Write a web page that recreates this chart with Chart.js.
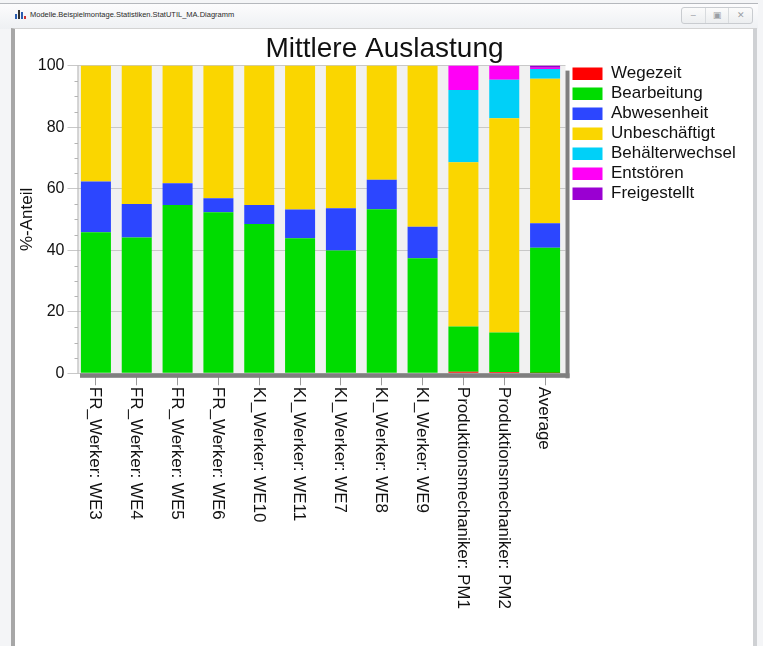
<!DOCTYPE html>
<html>
<head>
<meta charset="utf-8">
<script src="https://cdn.jsdelivr.net/npm/chart.js@4"></script>
<style>
  body { margin: 0; width: 763px; height: 646px; overflow: hidden; position: relative;
         background: #f4f5f7; font-family: "Liberation Sans", Arial, sans-serif; }
  #titlebar { position: absolute; left: 0; top: 3px; width: 758px; height: 25px;
              background: linear-gradient(#fcfcfd, #eef0f3); border-top: 1px solid #b5b8bd; }
  #titlebar .caption { position: absolute; left: 30px; top: 6px; font-size: 7.5px; color: #2a2a2a; white-space: nowrap; }
  #icon { position: absolute; left: 15px; top: 5px; width: 11px; height: 10px; }
  #icon span { position: absolute; bottom: 0; width: 2px; }
  #buttons { position: absolute; left: 681px; top: 3px; width: 70px; height: 15px; border: 1px solid #c9ccd0;
             border-radius: 3px; background: linear-gradient(#fbfbfb, #eceef0); display: flex; }
  #buttons span { flex: 1; text-align: center; font-size: 9px; line-height: 15px; color: #9a9ea4; border-right: 1px solid #d8dbde; }
  #buttons span:last-child { border-right: none; }
  #client { position: absolute; left: 11px; top: 28px; width: 738px; height: 640px; background: #fff;
            border-left: 4px solid #a7a7a7; border-right: 4px solid #cfd1d4; border-top: 1px solid #d3d3d3; }
  canvas { position: absolute; left: 0; top: 0; }
</style>
</head>
<body>
<div id="titlebar">
  <div id="icon"><span style="left:0;height:5px;background:#2a5db0"></span><span style="left:3px;height:9px;background:#333"></span><span style="left:6px;height:7px;background:#2a5db0"></span><span style="left:9px;height:3px;background:#c33"></span></div>
  <div class="caption">Modelle.Beispielmontage.Statistiken.StatUTIL_MA.Diagramm</div>
  <div id="buttons"><span>&#8211;</span><span>&#9635;</span><span>&#10005;</span></div>
</div>
<div id="client"></div>
<canvas id="chart" width="763" height="646"></canvas>
<script>
const FONT = '"Liberation Sans", Arial, sans-serif';

// categories (x axis)
const categories = [
  'FR_Werker: WE3', 'FR_Werker: WE4', 'FR_Werker: WE5', 'FR_Werker: WE6',
  'KI_Werker: WE10', 'KI_Werker: WE11', 'KI_Werker: WE7', 'KI_Werker: WE8', 'KI_Werker: WE9',
  'Produktionsmechaniker: PM1', 'Produktionsmechaniker: PM2', 'Average'
];

// series, bottom to top (% share)
const wegezeit         = [0, 0, 0, 0, 0, 0, 0, 0, 0, 0.5, 0.4, 0.1];
const bearbeitung      = [45.8, 44.1, 54.7, 52.3, 48.5, 43.9, 39.9, 53.3, 37.4, 14.7, 12.9, 40.7];
const abwesenheit      = [16.5, 10.9, 7.1, 4.6, 6.2, 9.3, 13.7, 9.6, 10.2, 0, 0, 8.0];
const unbeschaeftigt   = [37.7, 45.0, 38.2, 43.1, 45.3, 46.8, 46.4, 37.1, 52.4, 53.4, 69.6, 46.9];
const behaelterwechsel = [0, 0, 0, 0, 0, 0, 0, 0, 0, 23.5, 12.5, 3.2];
const entstoeren       = [0, 0, 0, 0, 0, 0, 0, 0, 0, 7.9, 4.6, 0.4];
const freigestellt     = [0, 0, 0, 0, 0, 0, 0, 0, 0, 0, 0, 0.7];

const seriesNames  = ['Wegezeit', 'Bearbeitung', 'Abwesenheit', 'Unbeschäftigt', 'Behälterwechsel', 'Entstören', 'Freigestellt'];
const seriesData   = [wegezeit, bearbeitung, abwesenheit, unbeschaeftigt, behaelterwechsel, entstoeren, freigestellt];
const seriesColors = ['#ff0000', '#00dc00', '#2c46ff', '#fad600', '#00d0f8', '#ff00f6', '#9a00d2'];

// y axis tick labels
const yTicks = [0, 20, 40, 60, 80, 100];

const datasets = seriesNames.map((name, i) => ({
  label: name,
  data: seriesData[i],
  backgroundColor: seriesColors[i],
  borderWidth: 0,
  barPercentage: 0.735,
  categoryPercentage: 1,
  yAxisID: 'y'
}));

// plot background, drop shadow, minor ticks, vertical x labels
const plotDecor = {
  id: 'plotDecor',
  beforeDraw(chart) {
    const { ctx, chartArea: a } = chart;
    ctx.save();
    ctx.fillStyle = '#f1f1f1';
    ctx.fillRect(a.left + 2, a.top, a.right - a.left - 2, a.bottom - a.top);
    ctx.restore();
  },
  afterDatasetsDraw(chart) {
    const { ctx, chartArea: a } = chart;
    const y = chart.scales.y;
    ctx.save();
    ctx.fillStyle = '#7f7f7f';
    ctx.fillRect(a.right, a.top + 5, 4, a.bottom - a.top);
    ctx.fillRect(a.left + 4.5, a.bottom, a.right - a.left - 0.5, 4.5);
    ctx.strokeStyle = '#b4b4b4';
    ctx.lineWidth = 1;
    ctx.beginPath();
    ctx.moveTo(a.left + 2.5, a.top);
    ctx.lineTo(a.left + 2.5, a.bottom);
    for (let v = 5; v < 100; v += 5) {
      if (v % 20 === 0) continue;
      const py = Math.round(y.getPixelForValue(v)) + 0.5;
      ctx.moveTo(a.left - 1, py);
      ctx.lineTo(a.left + 2.5, py);
    }
    ctx.stroke();
    ctx.restore();
  },
  afterDraw(chart) {
    const { ctx, chartArea: a } = chart;
    const x = chart.scales.x;
    ctx.save();
    ctx.fillStyle = '#111';
    ctx.font = '17px ' + FONT;
    ctx.textAlign = 'left';
    ctx.textBaseline = 'middle';
    categories.forEach((label, i) => {
      ctx.save();
      ctx.translate(x.getPixelForTick(i) - 1, a.bottom + 13.5);
      ctx.rotate(Math.PI / 2);
      ctx.fillText(label, 0, 0);
      ctx.restore();
    });
    ctx.restore();
  }
};

const ctx = document.getElementById('chart').getContext('2d');

new Chart(ctx, {
  type: 'bar',
  data: { labels: categories, datasets: datasets },
  plugins: [plotDecor],
  options: {
    responsive: false,
    animation: false,
    devicePixelRatio: 1,
    layout: { padding: { left: 15, top: 28, right: 9, bottom: 0 } },
    plugins: {
      title: {
        display: true,
        text: 'Mittlere Auslastung',
        color: '#111',
        font: { family: FONT, size: 28, weight: 'normal' },
        padding: { top: 4, bottom: 0 }
      },
      legend: {
        position: 'right',
        align: 'start',
        maxWidth: 170,
        title: { display: true, text: '', font: { size: 10 }, padding: { top: 22.2, bottom: 0 } },
        labels: {
          boxWidth: 30,
          boxHeight: 12.5,
          padding: 3,
          color: '#111',
          font: { family: FONT, size: 17 }
        }
      },
      tooltip: { enabled: false }
    },
    scales: {
      x: {
        stacked: true,
        afterFit: s => { s.height = 272.7; },
        grid: { display: true, drawOnChartArea: false, offset: false, tickLength: 12, color: '#9a9a9a' },
        border: { display: false },
        ticks: { display: false, autoSkip: false }
      },
      y: {
        stacked: true,
        min: 0,
        max: 100,
        afterFit: s => { s.width = 60.5; },
        afterBuildTicks: s => { s.ticks = yTicks.map(v => ({ value: v })); },
        ticks: { padding: 3, color: '#111', font: { family: FONT, size: 16 } },
        grid: { color: '#c8c8c8', tickLength: 8 },
        border: { display: false },
        title: {
          display: true,
          text: '%-Anteil',
          color: '#111',
          font: { family: FONT, size: 17 },
          padding: { top: 2, bottom: 0 }
        }
      },
      yPad: {
        type: 'linear',
        position: 'right',
        afterFit: s => { s.width = 4; },
        grid: { display: false },
        ticks: { display: false },
        border: { display: false }
      },
      yOuter: {
        type: 'linear',
        position: 'right',
        weight: 2000,
        afterFit: s => { s.width = 14.5; },
        grid: { display: false },
        ticks: { display: false },
        border: { display: false }
      }
    }
  }
});
</script>
</body>
</html>
